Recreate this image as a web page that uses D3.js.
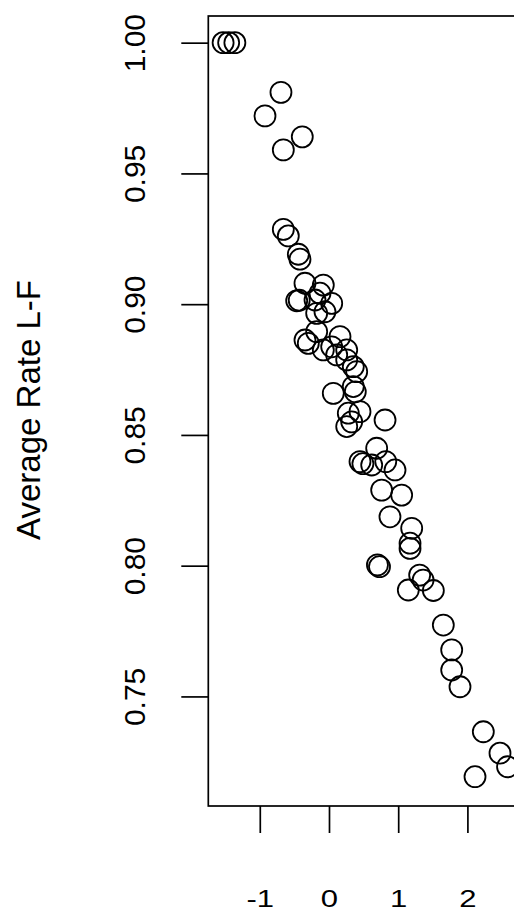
<!DOCTYPE html>
<html>
<head>
<meta charset="utf-8">
<script src="https://cdn.jsdelivr.net/npm/d3@7/dist/d3.min.js"></script>
<style>
  html, body { margin: 0; padding: 0; background: #fff; }
  svg { display: block; }
  text { font-family: "Liberation Sans", Arial, Helvetica, sans-serif; fill: #000; }
</style>
</head>
<body>
<svg id="chart" width="514" height="915"></svg>
<script>
// ---- data ----
const xValues = [
  -1.53, -1.45, -1.36, -0.694, -0.925, -0.386, -0.660,
  -0.660, -0.588, -0.443, -0.419,
  -0.347, -0.082, -0.467, -0.43, 0.039, -0.202, -0.13, -0.178, -0.058,
  -0.347, -0.299, -0.178, 0.159, 0.039, 0.256, -0.082, 0.111, 0.256, 0.400, 0.351,
  0.062, 0.351, 0.38, 0.279, 0.448, 0.328, 0.256, 0.81,
  0.689, 0.448, 0.49, 0.617, 0.82, 0.954, 0.761, 1.05, 0.881, 1.195, 1.171, 1.171,
  0.70, 0.73, 1.31, 1.36, 1.146, 1.508, 1.652, 1.773, 1.773, 1.893,
  2.23, 2.471, 2.58, 2.11
];
const yValues = [
  1.000, 1.000, 1.000, 0.981, 0.972, 0.964, 0.959,
  0.9286, 0.9261, 0.9191, 0.9172,
  0.908, 0.9073, 0.9013, 0.9015, 0.9003, 0.9016, 0.9042, 0.8965, 0.8971,
  0.8863, 0.885, 0.8895, 0.8876, 0.8837, 0.8825, 0.8825, 0.8806, 0.8787, 0.8742, 0.8761,
  0.8659, 0.8685, 0.8665, 0.8583, 0.8589, 0.855, 0.8532, 0.8557,
  0.8449, 0.8398, 0.8390, 0.8385, 0.8398, 0.8366, 0.8289, 0.827, 0.8187, 0.8143, 0.8086, 0.8066,
  0.8003, 0.7996, 0.7964, 0.7945, 0.7907, 0.7905, 0.7773, 0.7678, 0.7601, 0.7537,
  0.7365, 0.7283, 0.7231, 0.7193
];
const xTicks = [-1, 0, 1, 2];
const yTicks = [0.75, 0.80, 0.85, 0.90, 0.95, 1.00];
const yTitle = "Average Rate L-F";

// ---- layout ----
const plotL = 208.3, plotR = 560, plotT = 16, plotB = 806;
const svg = d3.select("#chart");

const x = d3.scaleLinear().domain([-1.744, 3.338]).range([plotL, plotR]);
const y = d3.scaleLinear().domain([0.7081, 1.0102]).range([plotB, plotT]);

// points
const pts = xValues.map((v, i) => ({x: v, y: yValues[i]}));
svg.append("g").selectAll("circle").data(pts).join("circle")
  .attr("cx", d => x(d.x)).attr("cy", d => y(d.y))
  .attr("r", 10.5)
  .attr("fill", "none").attr("stroke", "#000").attr("stroke-width", 1.8);

// box
svg.append("rect")
  .attr("x", plotL).attr("y", plotT)
  .attr("width", plotR - plotL).attr("height", plotB - plotT)
  .attr("fill", "none").attr("stroke", "#000").attr("stroke-width", 1.7);

// x axis
const gx = svg.append("g").attr("transform", `translate(0,${plotB})`)
  .call(d3.axisBottom(x).tickValues(xTicks).tickSize(27).tickFormat(d => String(d)));
gx.attr("font-size", 23).attr("font-family", "'Liberation Sans', Arial, sans-serif");
gx.select(".domain").remove();
gx.selectAll("line").attr("stroke", "#000").attr("stroke-width", 1.7);
gx.selectAll("text")
  .attr("y", 0).attr("dy", null)
  .attr("transform", "translate(0,101) scale(1.35,1)")
  .attr("text-anchor", "middle")
  .attr("font-size", 23)
  .attr("fill", "#1a1a1a");

// y axis
const gy = svg.append("g").attr("transform", `translate(${plotL},0)`)
  .call(d3.axisLeft(y).tickValues(yTicks).tickSize(27).tickFormat(d3.format(".2f")));
gy.attr("font-size", 30).attr("font-family", "'Liberation Sans', Arial, sans-serif");
gy.select(".domain").remove();
gy.selectAll("line").attr("stroke", "#000").attr("stroke-width", 1.7);
gy.selectAll("text")
  .attr("x", 0).attr("dy", null)
  .attr("transform", "translate(-63.3,0) rotate(-90)")
  .attr("text-anchor", "middle")
  .attr("font-size", 30)
  .attr("fill", "#1a1a1a");

// y title
svg.append("text")
  .attr("transform", "translate(40,410) rotate(-90)")
  .attr("text-anchor", "middle")
  .attr("fill", "#1a1a1a")
  .attr("font-size", 33)
  .text(yTitle);
</script>
</body>
</html>
